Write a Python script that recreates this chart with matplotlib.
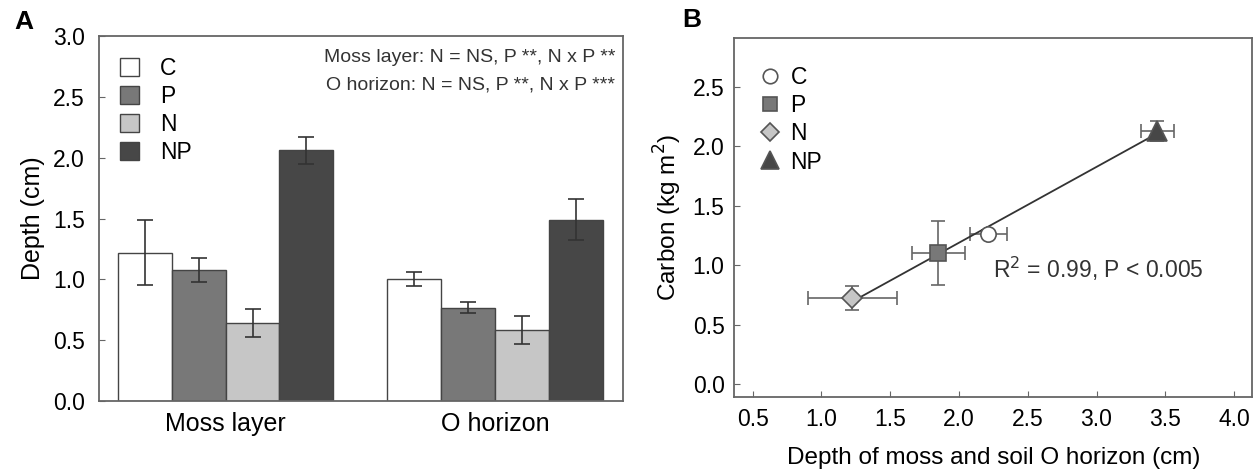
import matplotlib
matplotlib.use("Agg")
import matplotlib.pyplot as plt
from matplotlib.lines import Line2D
from matplotlib.patches import Patch
import numpy as np

plt.rcParams["font.family"] = ["Liberation Sans", "DejaVu Sans"]

# Panel A: depth by layer and treatment
layers = ["Moss layer", "O horizon"]
treatments = ["C", "P", "N", "NP"]
depth_mean = {
    "C": [1.22, 1.00],
    "P": [1.075, 0.768],
    "N": [0.64, 0.585],
    "NP": [2.06, 1.49],
}
depth_err = {
    "C": [0.27, 0.057],
    "P": [0.10, 0.042],
    "N": [0.117, 0.115],
    "NP": [0.112, 0.168],
}
bar_colors = {"C": "#ffffff", "P": "#787878", "N": "#c6c6c6", "NP": "#474747"}
anova_lines = ["Moss layer: N = NS, P **, N x P **",
               "O horizon: N = NS, P **, N x P ***"]

# Panel B: carbon vs depth
depth_total = [2.213, 1.85, 1.224, 3.44]
depth_total_err = [0.135, 0.19, 0.325, 0.12]
carbon = [1.265, 1.10, 0.72, 2.13]
carbon_err = [0.03, 0.27, 0.10, 0.085]
markers = {"C": "o", "P": "s", "N": "D", "NP": "^"}
marker_sizes = {"C": 11, "P": 11, "N": 10, "NP": 14}
fit_label = "R$^2$ = 0.99, P < 0.005"

EDGE = "#444444"
SPINE = "#666666"
TICK_FS = 16.5
LABEL_FS = 18

fig = plt.figure(figsize=(12.58, 4.72), dpi=100)
axA = fig.add_axes([0.0787, 0.1504, 0.4165, 0.7733])
axB = fig.add_axes([0.5837, 0.1583, 0.4118, 0.7606])

# ---- A ----
x = np.arange(len(layers))
width = 0.2
for i, t in enumerate(treatments):
    pos = x + (i - 1.5) * width
    axA.bar(pos, depth_mean[t], width, color=bar_colors[t], edgecolor=EDGE,
            linewidth=1.0, label=t, zorder=2)
    axA.errorbar(pos, depth_mean[t], yerr=depth_err[t], fmt="none",
                 ecolor="#333333", elinewidth=1.2, capsize=6, capthick=1.2, zorder=3)
axA.set_xlim(-0.47, 1.475)
axA.set_ylim(0, 3.0)
axA.set_yticks(np.arange(0, 3.01, 0.5))
axA.set_yticklabels([f"{v:.1f}" for v in np.arange(0, 3.01, 0.5)])
axA.set_xticks(x)
axA.set_xticklabels(layers, fontsize=LABEL_FS)
axA.tick_params(axis="x", length=0, pad=8)
axA.tick_params(axis="y", direction="in", length=4, pad=10, labelsize=TICK_FS,
                color=SPINE)
axA.set_ylabel("Depth (cm)", fontsize=LABEL_FS, labelpad=6)
for s in axA.spines.values():
    s.set_color(SPINE)
    s.set_linewidth(1.3)
axA.legend(handles=[Patch(facecolor=bar_colors[t], edgecolor=EDGE, label=t)
                    for t in treatments],
           loc="upper left", bbox_to_anchor=(0.0, 1.0), frameon=False,
           fontsize=TICK_FS, handlelength=0.85, handleheight=0.85,
           labelspacing=0.22, handletextpad=0.9, borderaxespad=0.5)
axA.text(0.985, 0.94, anova_lines[0], transform=axA.transAxes, ha="right",
         va="center", fontsize=14, color="#333333")
axA.text(0.985, 0.866, anova_lines[1], transform=axA.transAxes, ha="right",
         va="center", fontsize=14, color="#333333")

# ---- B ----
for i, t in enumerate(treatments):
    axB.errorbar(depth_total[i], carbon[i], xerr=depth_total_err[i],
                 yerr=carbon_err[i], fmt="none", ecolor="#666666",
                 elinewidth=1.2, capsize=5, capthick=1.2, zorder=2)
coef = np.polyfit(depth_total, carbon, 1)
xs = np.array([min(depth_total), max(depth_total)])
axB.plot(xs, np.polyval(coef, xs), color="#333333", linewidth=1.3, zorder=3)
for i, t in enumerate(treatments):
    axB.plot(depth_total[i], carbon[i], marker=markers[t],
             markersize=marker_sizes[t], color=bar_colors[t],
             markeredgecolor="#555555", markeredgewidth=1.2, linestyle="none",
             zorder=4)
axB.set_xlim(0.366, 4.133)
axB.set_ylim(-0.112, 2.907)
axB.set_xticks(np.arange(0.5, 4.01, 0.5))
axB.set_xticklabels([f"{v:.1f}" for v in np.arange(0.5, 4.01, 0.5)])
axB.set_yticks(np.arange(0, 2.51, 0.5))
axB.set_yticklabels([f"{v:.1f}" for v in np.arange(0, 2.51, 0.5)])
axB.tick_params(direction="in", length=4, labelsize=TICK_FS, color=SPINE)
axB.tick_params(axis="x", pad=8)
axB.tick_params(axis="y", pad=7)
axB.set_xlabel("Depth of moss and soil O horizon (cm)", fontsize=LABEL_FS - 0.5,
               labelpad=11)
axB.set_ylabel("Carbon (kg m$^2$)", fontsize=LABEL_FS - 0.5, labelpad=6)
for s in axB.spines.values():
    s.set_color(SPINE)
    s.set_linewidth(1.3)
handles = [Line2D([], [], marker=markers[t], markersize=marker_sizes[t] * 0.95,
                  color=bar_colors[t], markeredgecolor="#555555",
                  markeredgewidth=1.2, linestyle="none", label=t)
           for t in treatments]
axB.legend(handles=handles, loc="upper left", bbox_to_anchor=(0.02, 0.96),
           frameon=False, fontsize=TICK_FS, handlelength=1.0, labelspacing=0.22,
           handletextpad=0.4, borderaxespad=0.2)
axB.text(0.5, 0.357, fit_label, transform=axB.transAxes, ha="left",
         va="center", fontsize=16.5, color="#333333")

fig.text(0.019, 0.953, "A", fontsize=19, fontweight="bold", ha="center", va="center")
fig.text(0.55, 0.957, "B", fontsize=19, fontweight="bold", ha="center", va="center")

fig.savefig("out.png", dpi=100)
